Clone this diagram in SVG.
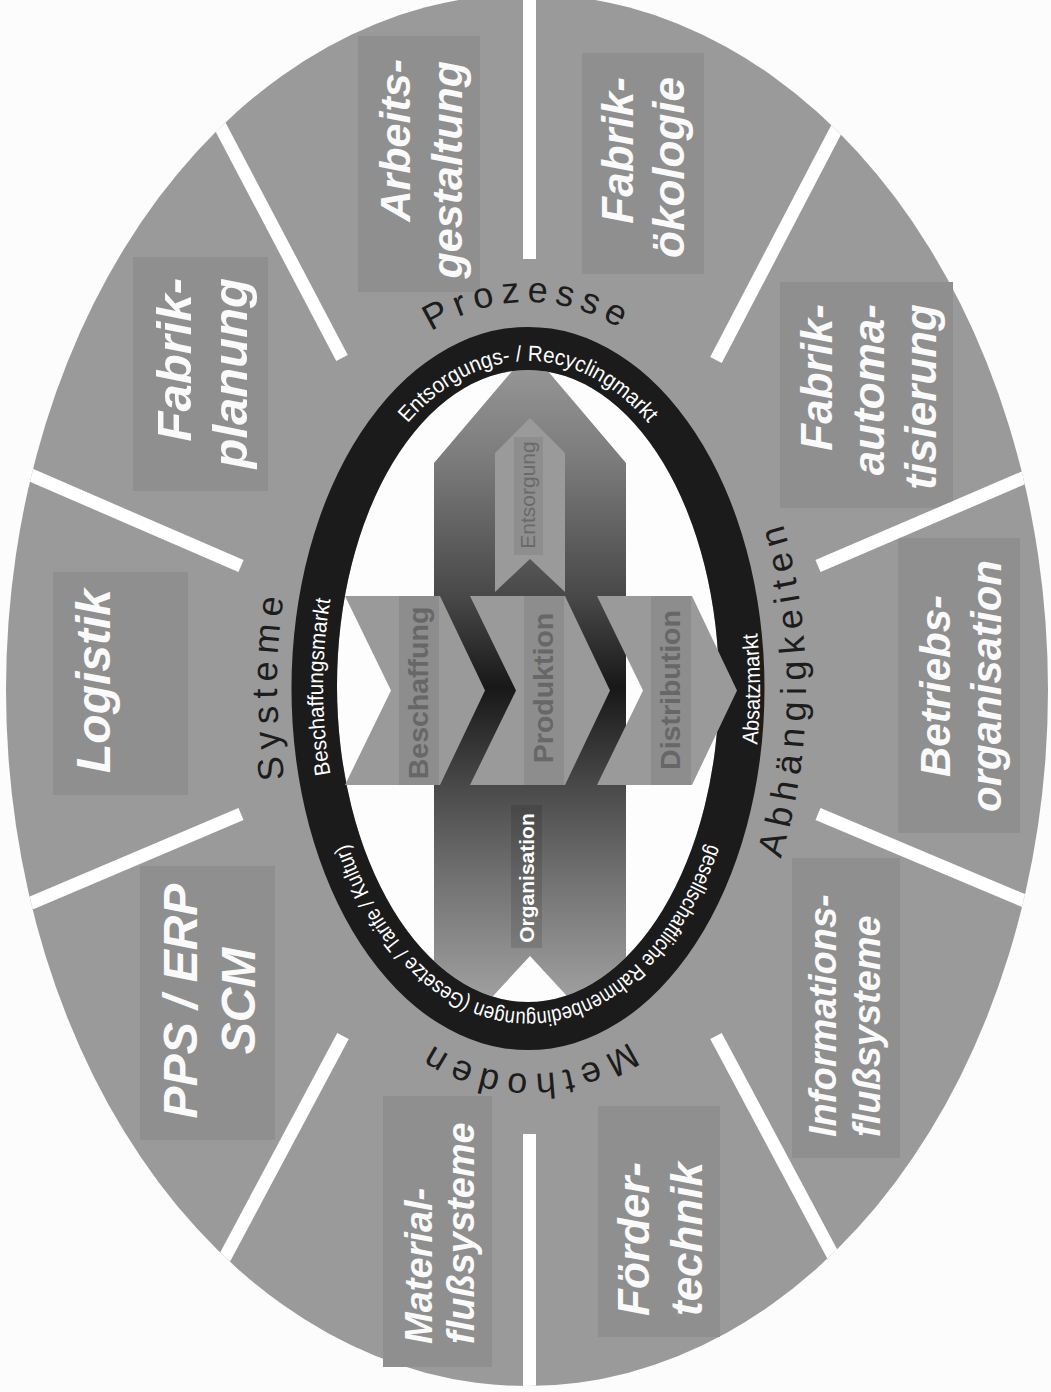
<svg xmlns="http://www.w3.org/2000/svg" width="1051" height="1392" viewBox="0 0 1051 1392">
<defs>
<style>
.box{fill:#8f8f8f}
.lbl{font-family:"Liberation Sans",Arial,sans-serif;font-weight:bold;font-style:italic;fill:#fafafa}
.arc{font-family:"Liberation Sans",Arial,sans-serif;font-size:36px;letter-spacing:7px;fill:#1c1c1c}
.ring{font-family:"Liberation Sans",Arial,sans-serif;font-size:22px;fill:#ffffff}
.chev{fill:#9a9a9a}
.strip{fill:#8d8d8d}
.ctxt{font-family:"Liberation Sans",Arial,sans-serif;font-weight:bold;font-size:28.5px;fill:#676767;text-anchor:middle}
.div{stroke:#ffffff;stroke-width:13;fill:none}
</style>
<linearGradient id="shaftGrad" gradientUnits="userSpaceOnUse" x1="0" y1="350" x2="0" y2="1000">
<stop offset="0" stop-color="#9a9a9a"/>
<stop offset="0.17" stop-color="#7b7b7b"/>
<stop offset="0.38" stop-color="#484848"/>
<stop offset="0.52" stop-color="#181818"/>
<stop offset="0.66" stop-color="#464646"/>
<stop offset="0.8" stop-color="#6e6e6e"/>
<stop offset="1" stop-color="#a0a0a0"/>
</linearGradient>
<clipPath id="outerClip"><ellipse cx="527" cy="690" rx="521" ry="696"/></clipPath>
<clipPath id="innerClip"><ellipse cx="528" cy="686" rx="191" ry="316"/></clipPath>
<path id="pOutTop" d="M 528 1068 A 251 383 0 0 1 528 302 A 251 383 0 0 1 528 1068"/>
<path id="pOutLeft" d="M 779 685 A 251 383 0 0 1 277 685 A 251 383 0 0 1 779 685"/>
<path id="pOutBottom" d="M 528 304 A 251 385 0 0 1 528 1074 A 251 385 0 0 1 528 304"/>
<path id="pOutRight" d="M 250 688 A 278 409 0 0 0 806 688 A 278 409 0 0 0 250 688"/>
<path id="pRingTop" d="M 528 1013 A 205 326 0 0 1 528 361 A 205 326 0 0 1 528 1013"/>
<path id="pRingLeft" d="M 733 687 A 205 326 0 0 1 323 687 A 205 326 0 0 1 733 687"/>
<path id="pRingBottom" d="M 528 362 A 206 325 0 0 1 528 1012 A 206 325 0 0 1 528 362"/>
<path id="pRingRight" d="M 296 689 A 232 355 0 0 0 760 689 A 232 355 0 0 0 296 689"/>
</defs>

<rect x="0" y="0" width="1051" height="1392" fill="#fcfcfc"/>
<ellipse id="outer-ring" cx="527" cy="690" rx="521" ry="696" fill="#9a9a9a"/>

<g id="arbeitsgestaltung">
<rect class="box" x="358" y="36" width="122" height="256"/>
<text class="lbl" font-size="43" text-anchor="end" transform="translate(410,59) rotate(-90)">Arbeits-</text>
<text class="lbl" font-size="43" text-anchor="end" transform="translate(462,61) rotate(-90)">gestaltung</text>
</g>
<g id="fabrikoekologie">
<rect class="box" x="582" y="53" width="122" height="221"/>
<text class="lbl" font-size="44" text-anchor="end" transform="translate(633,77) rotate(-90)">Fabrik-</text>
<text class="lbl" font-size="44" text-anchor="end" transform="translate(684,77) rotate(-90)">ökologie</text>
</g>
<g id="fabrikautomatisierung">
<rect class="box" x="780" y="282" width="173" height="226"/>
<text class="lbl" font-size="44" text-anchor="end" transform="translate(832,304) rotate(-90)">Fabrik-</text>
<text class="lbl" font-size="44" text-anchor="end" transform="translate(884,304) rotate(-90)">automa-</text>
<text class="lbl" font-size="44" text-anchor="end" transform="translate(936,304) rotate(-90)">tisierung</text>
</g>
<g id="betriebsorganisation">
<rect class="box" x="898" y="538" width="122" height="295"/>
<text class="lbl" font-size="42" text-anchor="middle" transform="translate(950,686) rotate(-90)">Betriebs-</text>
<text class="lbl" font-size="42" text-anchor="middle" transform="translate(1001,686) rotate(-90)">organisation</text>
</g>
<g id="informationsflusssysteme">
<rect class="box" x="792" y="858" width="108" height="300"/>
<text class="lbl" font-size="38" text-anchor="start" transform="translate(836,1137) rotate(-90)">Informations-</text>
<text class="lbl" font-size="38" text-anchor="start" transform="translate(880,1137) rotate(-90)">flußsysteme</text>
</g>
<g id="foerdertechnik">
<rect class="box" x="598" y="1106" width="122" height="231"/>
<text class="lbl" font-size="44" text-anchor="start" transform="translate(649,1316) rotate(-90)">Förder-</text>
<text class="lbl" font-size="44" text-anchor="start" transform="translate(702,1316) rotate(-90)">technik</text>
</g>
<g id="materialflusssysteme">
<rect class="box" x="383" y="1096" width="109" height="271"/>
<text class="lbl" font-size="38" text-anchor="start" transform="translate(432,1344) rotate(-90)">Material-</text>
<text class="lbl" font-size="38" text-anchor="start" transform="translate(474,1344) rotate(-90)">flußsysteme</text>
</g>
<g id="pps-erp-scm">
<rect class="box" x="140" y="866" width="135" height="274"/>
<text class="lbl" font-size="48" text-anchor="middle" transform="translate(197,1001) rotate(-90)">PPS / ERP</text>
<text class="lbl" font-size="48" text-anchor="middle" transform="translate(255,1001) rotate(-90)">SCM</text>
</g>
<g id="logistik">
<rect class="box" x="53" y="572" width="135" height="223"/>
<text class="lbl" font-size="48" text-anchor="middle" transform="translate(110,681) rotate(-90)">Logistik</text>
</g>
<g id="fabrikplanung">
<rect class="box" x="133" y="257" width="135" height="234"/>
<text class="lbl" font-size="49" text-anchor="end" transform="translate(191,278) rotate(-90)">Fabrik-</text>
<text class="lbl" font-size="49" text-anchor="end" transform="translate(247,278) rotate(-90)">planung</text>
</g>

<g id="connectors" clip-path="url(#outerClip)">
<line class="div" x1="529.5" y1="259" x2="529.5" y2="-20"/>
<line class="div" x1="529.5" y1="1134" x2="529.5" y2="1410"/>
<line class="div" x1="342" y1="358" x2="199" y2="86"/>
<line class="div" x1="716" y1="360" x2="859" y2="86"/>
<line class="div" x1="241" y1="566" x2="-4" y2="460"/>
<line class="div" x1="241" y1="814" x2="-4" y2="918"/>
<line class="div" x1="818" y1="566" x2="1065" y2="460"/>
<line class="div" x1="818" y1="814" x2="1065" y2="918"/>
<line class="div" x1="343" y1="1036" x2="199" y2="1306"/>
<line class="div" x1="716" y1="1036" x2="860" y2="1306"/>
</g>

<g id="category-labels">
<text class="arc"><textPath href="#pOutTop" startOffset="50%" text-anchor="middle">Prozesse</textPath></text>
<text class="arc"><textPath href="#pOutLeft" startOffset="50%" text-anchor="middle">Systeme</textPath></text>
<text class="arc"><textPath href="#pOutBottom" startOffset="50%" text-anchor="middle">Methoden</textPath></text>
<text class="arc"><textPath href="#pOutRight" startOffset="50%" text-anchor="middle">Abhängigkeiten</textPath></text>
</g>

<g id="center">
<ellipse cx="528" cy="686" rx="191" ry="316" fill="#fdfdfd"/>
<g clip-path="url(#innerClip)">
<polygon id="shaft" points="434,463 530,350 626,463 626,1060 530,956 434,1060" fill="url(#shaftGrad)"/>
</g>
<g id="entsorgung">
<polygon points="495,453 530,418 565,453 565,592 530,559 495,592" fill="#9a9a9a"/>
<rect x="514" y="437" width="29" height="118" fill="#8e8e8e"/>
<text font-family="Liberation Sans, Arial, sans-serif" font-size="21" fill="#6a6a6a" text-anchor="middle" transform="translate(535,495) rotate(-90)">Entsorgung</text>
</g>
<g id="organisation">
<rect x="511" y="805" width="31" height="143" fill="#000000" fill-opacity="0.12"/>
<text font-family="Liberation Sans, Arial, sans-serif" font-size="21" font-weight="bold" fill="#ffffff" text-anchor="middle" transform="translate(534,878) rotate(-90)">Organisation</text>
</g>
</g>

<g id="market-ring">
<path d="M 291.5 688.5 A 236.5 361.5 0 1 0 764.5 688.5 A 236.5 361.5 0 1 0 291.5 688.5 Z M 337 686 A 191 316 0 1 0 719 686 A 191 316 0 1 0 337 686 Z" fill="#1b1b1b" fill-rule="evenodd"/>
<text class="ring"><textPath href="#pRingTop" startOffset="50%" text-anchor="middle" textLength="280" lengthAdjust="spacingAndGlyphs">Entsorgungs- / Recyclingmarkt</textPath></text>
<text class="ring"><textPath href="#pRingLeft" startOffset="50%" text-anchor="middle" textLength="176" lengthAdjust="spacingAndGlyphs">Beschaffungsmarkt</textPath></text>
<text class="ring" font-size="21"><textPath href="#pRingBottom" startOffset="50%" text-anchor="middle" textLength="525" lengthAdjust="spacingAndGlyphs">gesellschaftliche Rahmenbedingungen (Gesetze / Tarife / Kultur)</textPath></text>
<text class="ring"><textPath href="#pRingRight" startOffset="50%" text-anchor="middle" textLength="112" lengthAdjust="spacingAndGlyphs">Absatzmarkt</textPath></text>
</g>

<g id="beschaffung">
<polygon class="chev" points="345,596 440,596 485,690.5 440,785 345,785 391,690.5"/>
<rect class="strip" x="399" y="596" width="40" height="189"/>
<text class="ctxt" transform="translate(428,693) rotate(-90)">Beschaffung</text>
</g>
<g id="produktion">
<polygon class="chev" points="470,596 565,596 610,690.5 565,785 470,785 516,690.5"/>
<rect class="strip" x="524" y="596" width="40" height="189"/>
<text class="ctxt" transform="translate(553,688) rotate(-90)">Produktion</text>
</g>
<g id="distribution">
<polygon class="chev" points="597,596 692,596 737,690.5 692,785 597,785 643,690.5"/>
<rect class="strip" x="651" y="596" width="40" height="189"/>
<text class="ctxt" transform="translate(680,690) rotate(-90)">Distribution</text>
</g>
</svg>
